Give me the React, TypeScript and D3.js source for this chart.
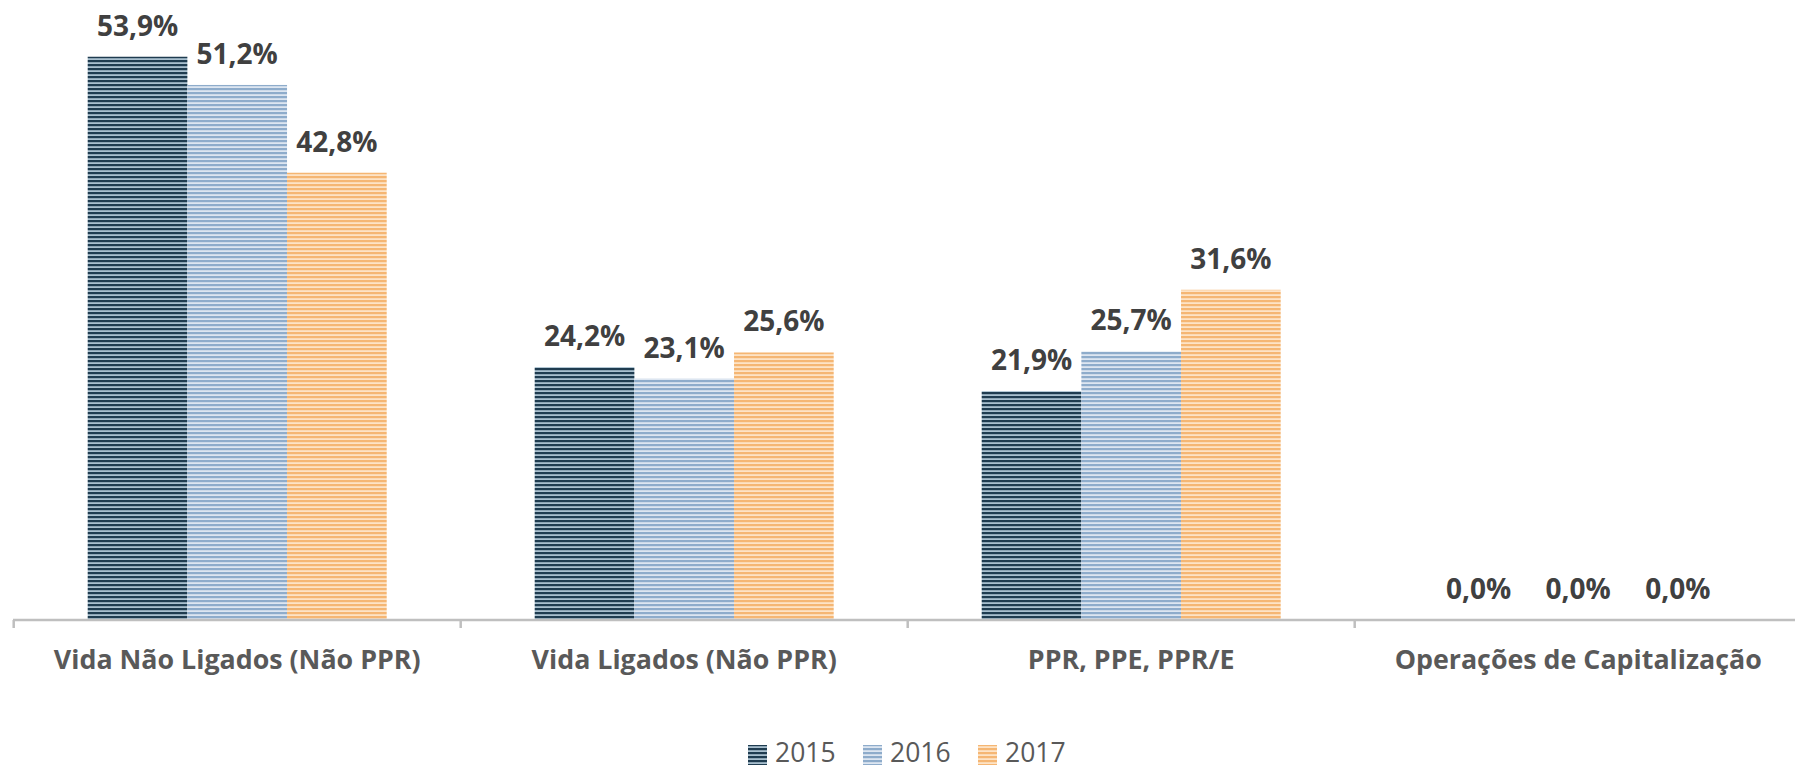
import React from "react";
import * as d3 from "d3";

const categories = [
  "Vida Não Ligados (Não PPR)",
  "Vida Ligados (Não PPR)",
  "PPR, PPE, PPR/E",
  "Operações de Capitalização",
];
const seriesNames = ["2015", "2016", "2017"];
const values2015 = [53.9, 24.2, 21.9, 0.0];
const values2016 = [51.2, 23.1, 25.7, 0.0];
const values2017 = [42.8, 25.6, 31.6, 0.0];
const seriesValues = [values2015, values2016, values2017];

const stripeDark = ["#1f3c50", "#8eaccb", "#f5b673"];
const stripeLight = ["#a9c0cf", "#dde6f1", "#fde3c6"];

const W = 1795;
const H = 765;
const baseY = 620;
const font = "'Open Sans', 'Noto Sans', sans-serif";

const fmt = (v: number) => v.toFixed(1).replace(".", ",") + "%";

export default function App() {
  const x0 = d3.scaleBand<string>().domain(categories).range([13.7, 13.7 + 4 * 447]);
  const x1 = d3
    .scaleBand<string>()
    .domain(seriesNames)
    .range([74, 447 - 74]);
  const y = d3.scaleLinear().domain([0, 60]).range([baseY, baseY - 60 * 10.45]);

  const legendX = [748, 863, 978];

  return (
    <svg
      width={W}
      height={H}
      style={{ position: "absolute", left: 0, top: 0, background: "#fff" }}
    >
      <defs>
        {seriesNames.map((s, i) => (
          <pattern
            key={s}
            id={`pat${i}`}
            patternUnits="userSpaceOnUse"
            width={8}
            height={4}
          >
            <rect x={0} y={0} width={8} height={4} fill={stripeLight[i]} />
            <rect x={0} y={0} width={8} height={2.2} fill={stripeDark[i]} />
          </pattern>
        ))}
      </defs>

      {categories.map((c, ci) => (
        <g key={c} transform={`translate(${x0(c)},0)`}>
          {seriesNames.map((s, si) => {
            const v = seriesValues[si][ci];
            const bx = x1(s)!;
            const bw = x1.bandwidth();
            return (
              <g key={s}>
                {v > 0 && (
                  <rect
                    x={bx}
                    y={y(v)}
                    width={bw}
                    height={baseY - y(v)}
                    fill={`url(#pat${si})`}
                  />
                )}
                <text
                  x={bx + bw / 2}
                  y={y(v) - 21}
                  textAnchor="middle"
                  fontFamily={font}
                  fontWeight={700}
                  fontSize={28}
                  fill="#404040"
                >
                  {fmt(v)}
                </text>
              </g>
            );
          })}
          <text
            x={x0.bandwidth() / 2}
            y={669}
            textAnchor="middle"
            fontFamily={font}
            fontWeight={700}
            fontSize={26.8}
            fill="#595959"
          >
            {c}
          </text>
        </g>
      ))}

      <line x1={13} x2={W} y1={baseY} y2={baseY} stroke="#bfbfbf" strokeWidth={2.5} />
      {categories.map((c) => (
        <line
          key={c}
          x1={x0(c)!}
          x2={x0(c)!}
          y1={baseY}
          y2={628}
          stroke="#bfbfbf"
          strokeWidth={2.5}
        />
      ))}

      {seriesNames.map((s, i) => (
        <g key={s}>
          <rect x={legendX[i]} y={745} width={19} height={20} fill={`url(#pat${i})`} />
          <text
            x={legendX[i] + 27}
            y={762}
            fontFamily={font}
            fontSize={26.5}
            fill="#595959"
          >
            {s}
          </text>
        </g>
      ))}
    </svg>
  );
}
